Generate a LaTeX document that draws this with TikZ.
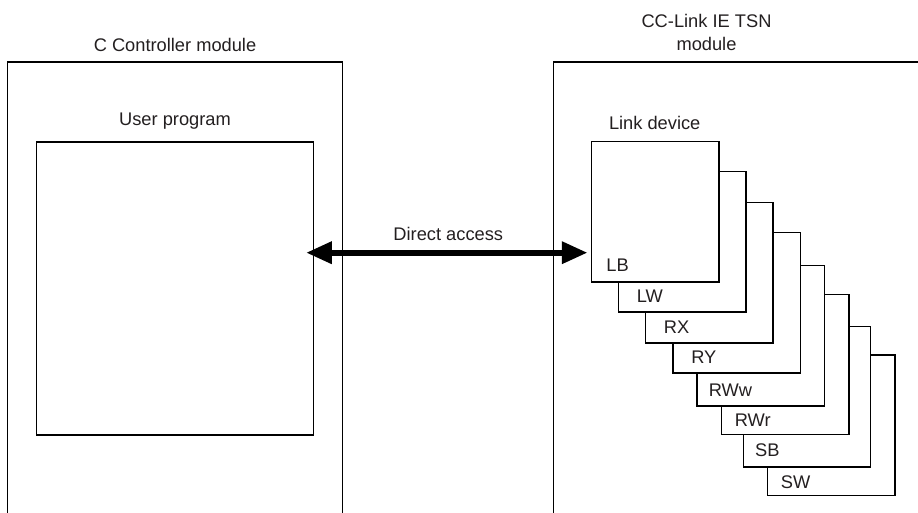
\documentclass[tikz,border=0pt]{standalone}
\usepackage{fontspec}
\setmainfont{Liberation Sans}
\usepackage{tikz}
\usepackage{xcolor}
\usetikzlibrary{arrows.meta, calc, positioning}
\definecolor{ink}{HTML}{231F20}

\begin{document}
\begin{tikzpicture}[
                x=0.02cm, y=-0.02cm,
                module/.style={draw, line width=0.75pt, inner sep=0pt, outer sep=0pt, anchor=north west},
                device/.style={draw, fill=white, line width=0.75pt, inner sep=0pt, outer sep=0pt, anchor=north west, minimum width=2.546cm, minimum height=2.808cm},
                caption/.style={text=ink, inner sep=0pt, font=\fontsize{10.4}{13.2}\selectfont},
                devname/.style={caption, anchor=base west},
                access/.style={draw, line width=3.6pt, {Triangle[length=14.7pt,width=11.9pt]}-{Triangle[length=14.7pt,width=11.9pt]}}
            ]
            \useasboundingbox (0,0) rectangle (918,513);
            \clip (0,0) rectangle (918,513);

            % Modules
            \node[module, minimum width=6.7cm, minimum height=10cm] (cpu) at (7.3,62) {};
            \node[module, minimum width=8cm, minimum height=10cm] (tsn) at (553.5,62) {};
            \node[caption, anchor=base] (cputitle) at (175,51.7) {C Controller module};
            \node[caption, align=center] (tsntitle) at (706.5,32.5) {CC-Link IE TSN\\module};

            % User program
            \node[module, minimum width=5.532cm, minimum height=5.86cm] (userprog) at (36.7,142) {};
            \node[caption, anchor=base] (userprogtitle) at (175,126) {User program};

            % Link devices (back to front)
            \node[device] (sw) at (767.7,355) {};
            \node[device] (sb) at (743.3,326.7) {};
            \node[device] (rwr) at (721.7,294.3) {};
            \node[device] (rww) at (697,265.7) {};
            \node[device] (ry) at (673,232.7) {};
            \node[device] (rx) at (645.7,202.7) {};
            \node[device] (lw) at (618.7,171.7) {};
            \node[device] (lb) at (591.7,141.7) {};
            \node[caption, anchor=base] (lbtitle) at (654.7,130) {Link device};

            \node[devname] (lbname) at (606,271.7) {LB};
            \node[devname] (lwname) at (636.5,302.3) {LW};
            \node[devname] (rxname) at (663.5,333.3) {RX};
            \node[devname] (ryname) at (691,363.3) {RY};
            \node[devname] (rwwname) at (708.5,396) {RWw};
            \node[devname] (rwrname) at (734.5,426.7) {RWr};
            \node[devname] (sbname) at (754.8,456.7) {SB};
            \node[devname] (swname) at (780.5,488.3) {SW};

            % Direct access
            \coordinate (accl) at ($(userprog.north east)+(-7.3,110.7)$);
            \coordinate (accr) at ($(lb.north west)+(-4,111)$);
            \draw[access] (accl) -- (accr);
            \node[caption, anchor=base] (acctitle) at (448.3,240.7) {Direct access};
        \end{tikzpicture}
\end{document}
